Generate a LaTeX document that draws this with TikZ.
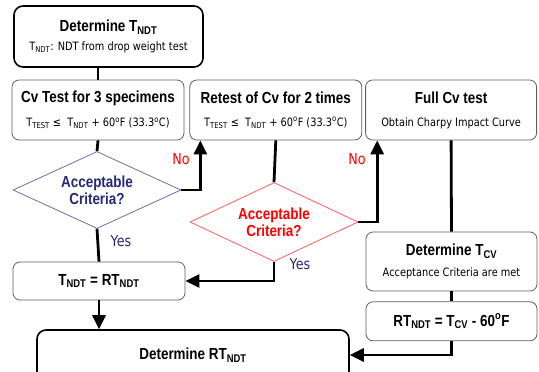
\documentclass[tikz,border=0pt]{standalone}
\usepackage{fontspec}
\setmainfont[FakeStretch=0.84]{Liberation Sans}
\newfontfamily\notefont[FakeStretch=0.85]{DejaVu Sans}
\usetikzlibrary{arrows.meta,positioning,calc,shapes.geometric}

\definecolor{boxgray}{RGB}{95,95,95}
\definecolor{decblue}{RGB}{110,110,170}
\definecolor{decred}{RGB}{255,95,95}
\definecolor{navy}{RGB}{40,40,120}

\newcommand{\idx}[1]{\textsubscript{#1}}
\newcommand{\heading}[1]{{\bfseries\fontsize{16}{18}\selectfont #1}}
\newcommand{\remark}[1]{{\notefont\fontsize{11.5}{13}\selectfont #1}}

\begin{document}
\begin{tikzpicture}[
    x=1pt, y=-1pt,
    block/.style={draw=boxgray, line width=0.8pt, rounded corners=7pt, fill=white,
      align=center, minimum width=172pt, minimum height=60pt, inner sep=2pt},
    mainblock/.style={block, draw=black, line width=1.6pt, rounded corners=9pt},
    decision/.style={diamond, draw, line width=0.8pt, aspect=2.2, inner sep=0pt,
      minimum width=168pt, minimum height=77pt, fill=white, align=center,
      font=\bfseries\fontsize{16}{17}\selectfont},
    link/.style={line width=2.8pt},
    flow/.style={link, -{Triangle[width=13pt,length=14pt]}},
    answer/.style={font=\notefont\fontsize{15}{17}\selectfont}
  ]
  \useasboundingbox (0,0) rectangle (539,372);

  \node[mainblock, minimum width=189pt, minimum height=61pt] (ndt) at (108.5,36.5)
    {\heading{Determine T\idx{NDT}}\\[7pt]\remark{T\idx{NDT}: NDT from drop weight test}};
  \node[block] (cv3) at (98,110)
    {\heading{Cv Test for 3 specimens}\\[11pt]\remark{T\idx{TEST} ≤\ \ T\idx{NDT} + 60\textsuperscript{o}F (33.3\textsuperscript{o}C)}};
  \node[block, right=5pt of cv3] (retest)
    {\heading{Retest of Cv for 2 times}\\[11pt]\remark{T\idx{TEST} ≤\ \ T\idx{NDT} + 60\textsuperscript{o}F (33.3\textsuperscript{o}C)}};
  \node[block, right=3pt of retest, minimum width=171pt] (fullcv)
    {\heading{Full Cv test}\\[11pt]\remark{Obtain Charpy Impact Curve}};

  \node[decision, draw=decblue, text=navy] (acc1) at (97,190) {Acceptable\\Criteria?};
  \node[decision, draw=decred, text=red, minimum height=79pt] (acc2) at (274,222) {Acceptable\\Criteria?};

  \node[block, minimum height=38pt] (rtndt) at (99,281) {\heading{T\idx{NDT} = RT\idx{NDT}}};
  \node[mainblock, minimum width=312pt, minimum height=50pt] (result) at (193,355)
    {\heading{Determine RT\idx{NDT}}};

  \node[block, minimum width=171pt, minimum height=59pt] (tcv) at (451.5,261.5)
    {\heading{Determine T\idx{CV}}\\[9pt]\remark{Acceptance Criteria are met}};
  \node[block, below=10pt of tcv, minimum width=171pt, minimum height=39pt] (shift)
    {\heading{RT\idx{NDT} = T\idx{CV} - 60\textsuperscript{o}F}};

  % plain joins
  \draw[link] (cv3.north) -- (cv3.north |- ndt.south);
  \draw[link] (cv3.south) -- (acc1.north);
  \draw[link] (retest.south) -- (acc2.north);
  \draw[link] (acc1.south) -- (rtndt.north);
  \draw[link] (fullcv.south) -- (tcv.north);
  \draw[link] (tcv.south) -- (shift.north);

  % arrows
  \coordinate (retry) at ($(retest.south west)+(11,0)$);
  \coordinate (full) at ($(fullcv.south west)+(12,0)$);
  \draw[flow] (acc1.east) -| (retry);
  \draw[flow] (acc2.east) -| (full);
  \draw[flow] (acc2.south) |- (rtndt.east);
  \draw[flow] (rtndt.south) -- (rtndt.south |- result.north);
  \draw[flow] (shift.south) |- (result.east);

  \node[answer, text=red] (no1) at (181,159) {No};
  \node[answer, text=red] (no2) at (357,159) {No};
  \node[answer, text=navy] (yes1) at (121,241) {Yes};
  \node[answer, text=navy] (yes2) at (300,264) {Yes};
\end{tikzpicture}
\end{document}
